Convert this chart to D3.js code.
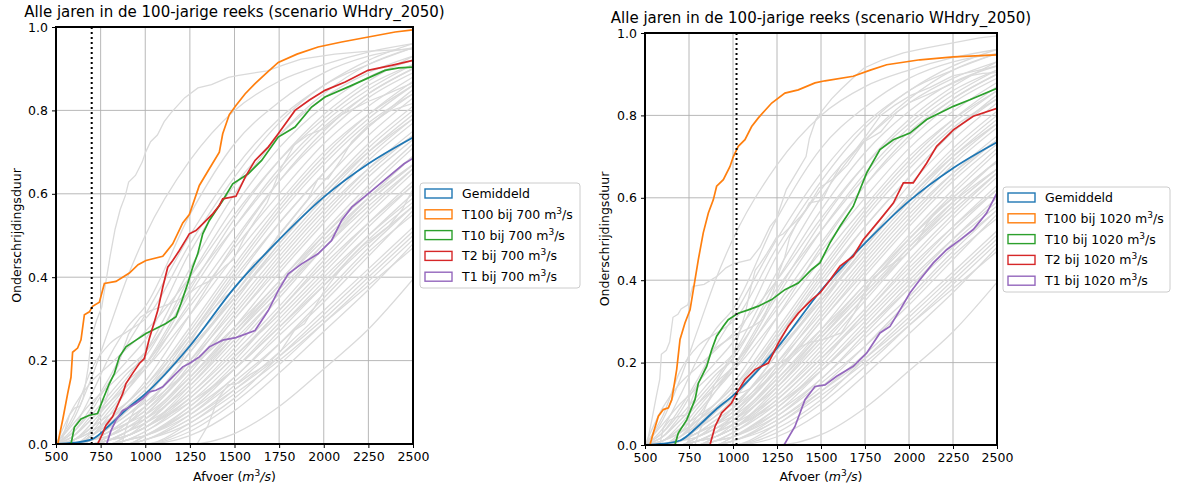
<!DOCTYPE html>
<html>
<head>
<meta charset="utf-8">
<script src="https://cdn.jsdelivr.net/npm/d3@7"></script>
<style>
  body { margin: 0; background: #fff; }
  svg { font-family: "DejaVu Sans", sans-serif; }
</style>
</head>
<body>
<svg id="chart" width="1179" height="488"></svg>
<script>
const gridAfvoer = [500, 600, 700, 800, 900, 1000, 1250, 1500, 1750, 2000, 2250, 2500];

// onderschrijdingsduur per jaar op gridAfvoer (grijze lijnen)
const greyYears = [
  [0, .06, .16, .28, .40, .50, .68, .80, .87, .91, .94, .96],
  [0, .04, .12, .21, .28, .33, .55, .72, .82, .89, .93, .95],
  [0, .07, .18, .24, .27, .30, .48, .64, .77, .86, .91, .95],
  [0, .09, .15, .19, .23, .27, .40, .55, .68, .78, .86, .91],
  [0, .03, .08, .15, .20, .25, .46, .62, .74, .83, .89, .93],
  [0, .05, .10, .14, .18, .22, .38, .52, .65, .76, .84, .90],
  [0, .02, .07, .12, .17, .21, .40, .57, .71, .81, .88, .92],
  [0, .01, .05, .10, .15, .19, .36, .52, .66, .77, .85, .91],
  [0, 0, .03, .08, .13, .18, .34, .49, .63, .74, .83, .89],
  [0, .02, .06, .10, .14, .18, .31, .45, .58, .70, .79, .86],
  [0, 0, .02, .06, .10, .14, .28, .43, .57, .69, .79, .87],
  [0, .01, .04, .07, .10, .14, .26, .40, .53, .65, .76, .84],
  [0, 0, .01, .04, .07, .11, .25, .39, .53, .65, .76, .85],
  [0, 0, .02, .05, .08, .12, .24, .36, .49, .61, .72, .81],
  [0, 0, .01, .03, .06, .09, .22, .36, .50, .63, .74, .83],
  [0, 0, .01, .04, .07, .10, .20, .32, .45, .57, .68, .77],
  [0, 0, 0, .02, .05, .08, .20, .34, .48, .60, .70, .78],
  [0, 0, .01, .03, .05, .08, .18, .30, .43, .55, .66, .75],
  [0, 0, 0, .01, .03, .07, .18, .31, .44, .56, .66, .74],
  [0, 0, .01, .03, .06, .09, .18, .28, .39, .51, .62, .72],
  [0, 0, 0, .02, .04, .06, .16, .28, .41, .53, .64, .73],
  [0, 0, 0, .01, .03, .05, .15, .27, .39, .50, .60, .69],
  [0, 0, .01, .02, .04, .06, .14, .25, .36, .48, .59, .69],
  [0, 0, 0, 0, .02, .04, .14, .26, .38, .49, .59, .67],
  [0, 0, 0, .01, .02, .04, .12, .23, .35, .47, .58, .67],
  [0, 0, 0, .01, .02, .04, .11, .21, .32, .44, .55, .65],
  [0, 0, 0, 0, .01, .03, .10, .20, .32, .43, .53, .62],
  [0, 0, 0, .01, .02, .04, .10, .18, .28, .39, .50, .60],
  [0, 0, 0, 0, .01, .02, .08, .18, .29, .40, .50, .59],
  [0, 0, 0, 0, 0, .02, .08, .16, .27, .38, .49, .58],
  [0, 0, 0, 0, .01, .02, .07, .15, .24, .34, .45, .56],
  [0, 0, 0, 0, 0, .01, .06, .14, .24, .35, .46, .55],
  [0, 0, 0, 0, 0, .01, .05, .13, .22, .32, .42, .52],
  [0, 0, 0, 0, 0, 0, .04, .11, .21, .31, .41, .51],
  [0, 0, 0, 0, 0, 0, .02, .08, .17, .27, .37, .48],
  [0, 0, 0, 0, 0, 0, 0, .025, .09, .18, .275, .395],
  [0, .01, .04, .09, .14, .19, .33, .47, .60, .72, .81, .88],
  [0, 0, .02, .05, .09, .13, .27, .42, .56, .68, .78, .86],
  [0, 0, .01, .04, .08, .12, .26, .41, .55, .67, .77, .84],
  [0, .01, .03, .06, .09, .12, .23, .35, .47, .59, .70, .79],
  [0, 0, 0, .02, .05, .09, .22, .35, .48, .60, .71, .80],
  [0, 0, .01, .02, .04, .07, .19, .33, .46, .58, .69, .78],
  [0, 0, 0, .01, .03, .06, .17, .30, .42, .54, .65, .74],
  [0, 0, .01, .03, .05, .07, .16, .27, .38, .50, .61, .71],
  [0, 0, 0, .01, .02, .05, .15, .26, .37, .48, .58, .67],
  [0, 0, 0, 0, .02, .04, .13, .24, .36, .47, .57, .66],
  [0, 0, 0, .01, .03, .05, .12, .22, .33, .45, .56, .66],
  [0, 0, 0, 0, .01, .03, .11, .21, .31, .42, .53, .63],
  [0, 0, 0, 0, .01, .02, .09, .19, .30, .41, .52, .62],
  [0, 0, 0, 0, 0, .02, .09, .18, .28, .38, .48, .57],
  [0, 0, 0, 0, 0, .01, .07, .16, .26, .36, .47, .57],
  [0, 0, 0, 0, 0, .01, .06, .13, .21, .30, .40, .50],
  [0, 0, 0, 0, 0, 0, .05, .12, .20, .29, .38, .47],
  [0, 0, 0, 0, 0, 0, .03, .10, .19, .29, .39, .49],
  [0, .03, .09, .16, .24, .31, .50, .66, .78, .86, .92, .96],
  [0, .02, .06, .11, .16, .22, .42, .60, .74, .84, .91, .95],
  [0, 0, .02, .07, .13, .19, .37, .54, .68, .79, .87, .93],
  [0, .01, .03, .06, .10, .15, .31, .48, .63, .75, .84, .90]
];

// gemiddelde curve [afvoer, onderschrijdingsduur]
const gemiddeld = [[500, 0], [600, .003], [700, .011], [800, .045], [900, .085], [1000, .12],
  [1250, .235], [1500, .375], [1750, .49], [2000, .592], [2250, .672], [2500, .735]];

// jaren geselecteerd bij 700 m3/s
const t100_700 = [[510, 0], [519, .02], [537, .057], [565, .12], [584, .16], [593, .22], [621, .23], [640, .25],
  [659, .31], [687, .317], [705, .33], [743, .34], [771, .385], [836, .39], [911, .41], [960, .43], [1004, .44],
  [1098, .45], [1154, .48], [1210, .53], [1247, .55], [1303, .62], [1359, .66], [1415, .70], [1434, .744],
  [1471, .79], [1508, .812], [1560, .84], [1615, .864], [1680, .89], [1745, .915], [1850, .935], [1968, .952],
  [2100, .964], [2250, .976], [2400, .988], [2500, .993]];
const t10_700 = [[584, 0], [603, .04], [640, .06], [687, .069], [733, .073], [761, .105], [799, .145], [827, .169],
  [855, .209], [892, .233], [948, .249], [1004, .265], [1060, .277], [1116, .289], [1172, .305], [1200, .337],
  [1238, .385], [1266, .424], [1294, .456], [1322, .504], [1359, .536], [1396, .56], [1434, .584], [1490, .624],
  [1577, .648], [1652, .68], [1745, .736], [1839, .76], [1932, .808], [2007, .832], [2157, .86], [2343, .896],
  [2420, .902], [2500, .904]];
const t2_700 = [[733, 0], [761, .025], [780, .045], [817, .065], [845, .093], [873, .12], [892, .145], [930, .17],
  [967, .193], [995, .205], [1023, .253], [1042, .28], [1070, .32], [1098, .376], [1126, .424], [1154, .44],
  [1191, .464], [1228, .49], [1247, .504], [1284, .512], [1322, .528], [1378, .552], [1415, .572], [1434, .588],
  [1508, .594], [1560, .64], [1615, .68], [1689, .712], [1745, .744], [1839, .80], [1920, .825], [2007, .848],
  [2120, .868], [2248, .896], [2380, .908], [2500, .92]];
const t1_700 = [[784, 0], [808, .032], [836, .057], [873, .08], [911, .088], [948, .097], [986, .109], [1023, .125],
  [1060, .129], [1098, .137], [1135, .153], [1172, .169], [1210, .185], [1247, .193], [1303, .209], [1359, .233],
  [1434, .249], [1508, .255], [1615, .272], [1689, .32], [1745, .368], [1801, .408], [1876, .432], [1968, .456],
  [2044, .488], [2100, .536], [2157, .568], [2248, .60], [2360, .64], [2450, .672], [2500, .685]];

// jaren geselecteerd bij 1020 m3/s
const t100_1020 = [[528, 0], [547, .029], [576, .07], [604, .086], [633, .09], [652, .11], [680, .183], [699, .256],
  [727, .296], [756, .328], [784, .401], [803, .45], [831, .515], [860, .563], [888, .595], [907, .628], [945, .644],
  [983, .676], [1002, .70], [1030, .725], [1068, .741], [1106, .773], [1144, .794], [1220, .83], [1295, .854],
  [1371, .862], [1466, .879], [1523, .884], [1683, .895], [1780, .91], [1873, .923], [2062, .935], [2252, .942],
  [2500, .947]];
const t10_1020 = [[670, 0], [689, .029], [737, .061], [784, .11], [803, .15], [850, .19], [879, .231], [907, .264],
  [945, .288], [973, .304], [1030, .32], [1087, .328], [1144, .337], [1220, .353], [1295, .377], [1371, .393],
  [1447, .426], [1494, .442], [1550, .49], [1608, .531], [1683, .579], [1759, .66], [1835, .717], [1911, .741],
  [2005, .757], [2100, .79], [2252, .822], [2346, .838], [2500, .866]];
const t2_1020 = [[869, 0], [898, .045], [936, .078], [992, .102], [1021, .126], [1068, .159], [1125, .183],
  [1201, .199], [1258, .248], [1314, .288], [1371, .32], [1447, .353], [1494, .369], [1550, .40], [1608, .434],
  [1683, .458], [1740, .498], [1835, .547], [1911, .587], [1968, .636], [2024, .636], [2100, .684], [2157, .725],
  [2252, .765], [2365, .798], [2500, .817]];
const t1_1020 = [[1290, 0], [1352, .045], [1409, .11], [1466, .142], [1523, .146], [1589, .167], [1683, .191],
  [1759, .223], [1835, .272], [1892, .288], [1949, .328], [2005, .369], [2062, .401], [2138, .442], [2214, .474],
  [2290, .498], [2365, .523], [2441, .563], [2500, .612]];

const xTicks = [500, 750, 1000, 1250, 1500, 1750, 2000, 2250, 2500];
const yTicks = [0, 0.2, 0.4, 0.6, 0.8, 1.0];
const legendNamen = ["Gemiddeld", "T100", "T10", "T2", "T1"];
const kleuren = ["#1f77b4", "#ff7f0e", "#2ca02c", "#d62728", "#9467bd"];
const titel = "Alle jaren in de 100-jarige reeks (scenario WHdry_2050)";

const svg = d3.select("#chart");

function tekenPaneel(p) {
  const x = d3.scaleLinear().domain([500, 2500]).range([p.left, p.right]);
  const y = d3.scaleLinear().domain([0, 1]).range([p.bottom, p.top]);
  const g = svg.append("g");

  g.append("clipPath").attr("id", "clip" + p.id)
    .append("rect").attr("x", p.left).attr("y", p.top)
    .attr("width", p.right - p.left).attr("height", p.bottom - p.top);

  // grid
  g.selectAll(".vgrid").data(xTicks).enter().append("line")
    .attr("x1", d => x(d)).attr("x2", d => x(d)).attr("y1", p.top).attr("y2", p.bottom)
    .attr("stroke", "#b0b0b0").attr("stroke-width", 0.9);
  g.selectAll(".hgrid").data(yTicks).enter().append("line")
    .attr("x1", p.left).attr("x2", p.right).attr("y1", d => y(d)).attr("y2", d => y(d))
    .attr("stroke", "#b0b0b0").attr("stroke-width", 0.9);

  const plot = g.append("g").attr("clip-path", "url(#clip" + p.id + ")");

  const greyLine = d3.line().x((d, i) => x(gridAfvoer[i])).y(d => y(d)).curve(d3.curveMonotoneX);
  const pairLine = d3.line().x(d => x(d[0])).y(d => y(d[1]));

  plot.selectAll(".grey").data(greyYears).enter().append("path")
    .attr("d", greyLine).attr("fill", "none").attr("stroke", "#dadada").attr("stroke-width", 1.3);
  // de geselecteerde jaren horen ook bij de 100 jaren
  plot.selectAll(".grey2").data(p.overig).enter().append("path")
    .attr("d", pairLine).attr("fill", "none").attr("stroke", "#dadada").attr("stroke-width", 1.3);

  plot.append("path").datum(gemiddeld)
    .attr("d", pairLine.curve(d3.curveMonotoneX)).attr("fill", "none")
    .attr("stroke", kleuren[0]).attr("stroke-width", 1.8);
  pairLine.curve(d3.curveLinear);
  p.curves.forEach((c, i) => {
    plot.append("path").datum(c).attr("d", pairLine).attr("fill", "none")
      .attr("stroke", kleuren[i + 1]).attr("stroke-width", 1.7);
  });

  // drempel
  plot.append("line").attr("x1", x(p.drempel)).attr("x2", x(p.drempel))
    .attr("y1", p.top).attr("y2", p.bottom)
    .attr("stroke", "#000").attr("stroke-width", 2).attr("stroke-dasharray", "2,3");

  // assen
  const xAxis = g.append("g").attr("transform", "translate(0," + p.bottom + ")")
    .call(d3.axisBottom(x).tickValues(xTicks).tickSize(4).tickPadding(4).tickFormat(d3.format("d")));
  const yAxis = g.append("g").attr("transform", "translate(" + p.left + ",0)")
    .call(d3.axisLeft(y).tickValues(yTicks).tickSize(4).tickPadding(4).tickFormat(d3.format(".1f")));
  [xAxis, yAxis].forEach(a => {
    a.select(".domain").remove();
    a.selectAll("text").attr("font-size", "12.5px").attr("fill", "#000")
      .attr("font-family", "DejaVu Sans");
    a.selectAll("line").attr("stroke", "#000").attr("stroke-width", 1);
  });

  g.append("rect").attr("x", p.left).attr("y", p.top)
    .attr("width", p.right - p.left).attr("height", p.bottom - p.top)
    .attr("fill", "none").attr("stroke", "#000").attr("stroke-width", 2);

  // titel en aslabels
  g.append("text").attr("x", (p.left + p.right) / 2).attr("y", p.top - 10.5)
    .attr("text-anchor", "middle").attr("font-size", "15px").text(titel);

  const xl = g.append("text").attr("x", (p.left + p.right) / 2).attr("y", 481)
    .attr("text-anchor", "middle").attr("font-size", "12.5px");
  xl.append("tspan").text("Afvoer (");
  xl.append("tspan").attr("font-style", "italic").text("m");
  xl.append("tspan").attr("font-size", "9px").attr("dy", -5).text("3");
  xl.append("tspan").attr("font-style", "italic").attr("dy", 5).text("/s");
  xl.append("tspan").text(")");

  g.append("text")
    .attr("transform", "translate(" + p.ylabelX + "," + (p.top + p.bottom) / 2 + ") rotate(-90)")
    .attr("text-anchor", "middle").attr("dominant-baseline", "central")
    .attr("font-size", "12.5px").text("Onderschrijdingsduur");

  // legenda
  const lg = g.append("g").attr("transform", "translate(" + p.legX + "," + p.legY + ")");
  lg.append("rect").attr("x", 0).attr("y", 0).attr("width", p.legW).attr("height", 105)
    .attr("rx", 3).attr("fill", "#fff").attr("fill-opacity", 0.8)
    .attr("stroke", "#cccccc").attr("stroke-width", 1);
  legendNamen.forEach((naam, i) => {
    const cy = 10.5 + i * 20.8;
    lg.append("rect").attr("x", 5).attr("y", cy - 4.5).attr("width", 27).attr("height", 9)
      .attr("fill", "#fff").attr("stroke", kleuren[i]).attr("stroke-width", 1.4);
    const t = lg.append("text").attr("x", 42).attr("y", cy + 4.5).attr("font-size", "12.5px");
    if (i === 0) {
      t.text(naam);
    } else {
      t.append("tspan").text(naam + " bij " + p.drempel + " m");
      t.append("tspan").attr("font-size", "9px").attr("dy", -5).text("3");
      t.append("tspan").attr("dy", 5).text("/s");
    }
  });
}

tekenPaneel({
  id: "L", left: 56, right: 413, top: 27, bottom: 444, drempel: 700, ylabelX: 16,
  curves: [t100_700, t10_700, t2_700, t1_700],
  overig: [t100_1020, t10_1020, t2_1020, t1_1020],
  legX: 420, legY: 183, legW: 160
});
tekenPaneel({
  id: "R", left: 645, right: 997, top: 33, bottom: 445, drempel: 1020, ylabelX: 604,
  curves: [t100_1020, t10_1020, t2_1020, t1_1020],
  overig: [t100_700, t10_700, t2_700, t1_700],
  legX: 1003, legY: 187, legW: 167
});
</script>
</body>
</html>
